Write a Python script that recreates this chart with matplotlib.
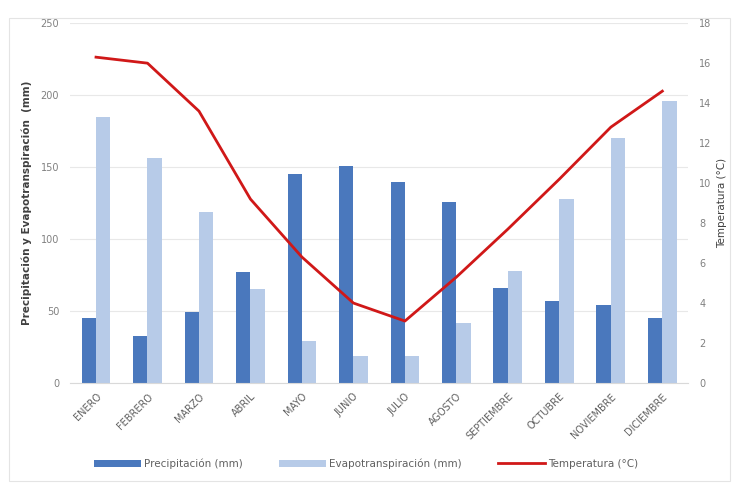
import numpy as np
import matplotlib.pyplot as plt
from matplotlib.patches import Rectangle

meses = ["ENERO", "FEBRERO", "MARZO", "ABRIL", "MAYO", "JUNIO", "JULIO",
         "AGOSTO", "SEPTIEMBRE", "OCTUBRE", "NOVIEMBRE", "DICIEMBRE"]
precipitacion = [45, 33, 49, 77, 145, 151, 140, 126, 66, 57, 54, 45]
evapotranspiracion = [185, 156, 119, 65, 29, 19, 19, 42, 78, 128, 170, 196]
temperatura = [16.3, 16.0, 13.6, 9.2, 6.3, 4.0, 3.1, 5.3, 7.7, 10.2, 12.8, 14.6]

dark_blue = "#4a78bd"
light_blue = "#b7cbe8"
red = "#d01818"
gray_text = "#808080"

fig = plt.figure(figsize=(7.32, 4.83), dpi=100)
fig.patches.append(Rectangle((0.012, 0.005), 0.985, 0.958, transform=fig.transFigure,
                             fill=False, edgecolor="#e4e4e4", linewidth=0.8))
ax = fig.add_axes([0.096, 0.207, 0.844, 0.745])

x = np.arange(len(meses))
w = 0.28
b1 = ax.bar(x - w / 2, precipitacion, w, color=dark_blue, label="Precipitación (mm)", zorder=2)
b2 = ax.bar(x + w / 2, evapotranspiracion, w, color=light_blue, label="Evapotranspiración (mm)", zorder=2)

ax.set_ylim(0, 250)
ax.set_yticks(range(0, 251, 50))
ax.set_xlim(-0.5, len(meses) - 0.5)
ax.set_xticks(x)
ax.set_xticklabels(meses, rotation=45, ha="right", rotation_mode="anchor",
                   fontsize=7, color="#606060")
ax.tick_params(axis="y", labelsize=7, colors=gray_text, length=0, pad=8)
ax.tick_params(axis="x", length=0, pad=6)
ax.grid(axis="y", color="#e8e8e8", linewidth=0.8, zorder=0)
for s in ax.spines.values():
    s.set_visible(False)
ax.spines["bottom"].set_visible(True)
ax.spines["bottom"].set_color("#d9d9d9")
ax.set_ylabel("Precipitación y Evapotranspiración  (mm)", fontsize=7.5,
              color="#404040", fontweight="bold", labelpad=6)

ax2 = ax.twinx()
l1, = ax2.plot(x, temperatura, color=red, linewidth=2, label="Temperatura (°C)", zorder=3)
ax2.set_ylim(0, 18)
ax2.set_yticks(range(0, 19, 2))
ax2.tick_params(axis="y", labelsize=7, colors=gray_text, length=0, pad=8)
for s in ax2.spines.values():
    s.set_visible(False)
ax2.set_ylabel("Temperatura (°C)", fontsize=7.5, color="#404040", labelpad=4)

fig.legend(handles=[b1, b2, l1], loc="lower center", bbox_to_anchor=(0.5, 0.01),
           ncol=3, frameon=False, fontsize=7.5, labelcolor="#606060",
           handlelength=4.5, columnspacing=3.5, handletextpad=0.3)

fig.savefig("out.png", dpi=100)
